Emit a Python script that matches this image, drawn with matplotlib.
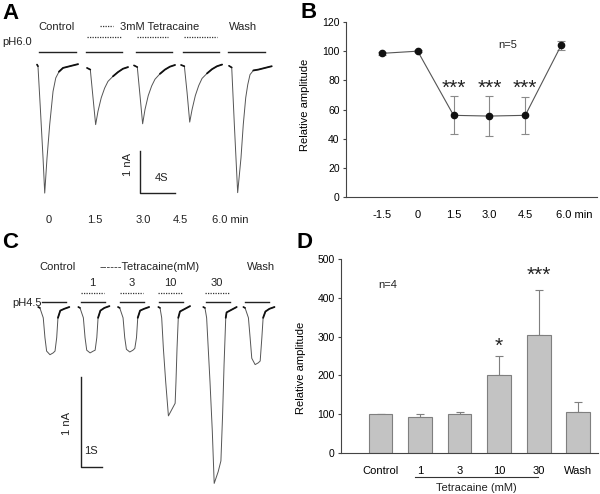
import matplotlib
matplotlib.use("Agg")
import matplotlib.pyplot as plt
import matplotlib.transforms as mtransforms

plt.rcParams['font.family'] = ['Liberation Sans', 'DejaVu Sans']
plt.rcParams['font.size'] = 8
plt.rcParams['text.color'] = '#222222'

# ---------------- panel A: pH6.0 currents (time in s, current in nA) ----------------
tA_ctrl = [0, 0.11, 0.38, 0.69, 0.88, 1.14, 1.45, 1.83, 2.14, 2.51, 2.97, 4.11, 4.69]
iA_ctrl = [0, -0.04, -1.04, -2.23, -3.06, -2.23, -1.43, -0.64, -0.32, -0.17, -0.08, -0.02, 0.01]
tA_drug = [0, 0.38, 0.69, 0.99, 1.26, 1.63, 2.02, 2.40, 2.97, 3.54, 4.11, 4.69]
iA_15 = [0, -0.04, -0.71, -1.35, -1.03, -0.71, -0.48, -0.32, -0.20, -0.10, -0.02, 0.02]
iA_30 = [0, -0.04, -0.72, -1.39, -1.05, -0.72, -0.49, -0.33, -0.20, -0.10, -0.03, 0.01]
iA_45 = [0, -0.03, -0.66, -1.36, -1.06, -0.73, -0.49, -0.32, -0.20, -0.10, -0.03, 0.01]
tA_wash = [0, 0.31, 0.61, 0.99, 1.37, 1.63, 1.91, 2.14, 2.40, 2.78, 3.35, 4.49, 4.88]
iA_wash = [0, -0.04, -1.40, -3.02, -2.19, -1.40, -0.76, -0.45, -0.21, -0.11, -0.09, -0.03, -0.01]
startA = [4.23, 9.94, 15.31, 20.69, 26.17]
baseA = [0.01, -0.07, -0.01, 0.0, -0.02]
solidA = [(4.46, 8.69), (9.83, 13.94), (15.54, 19.66), (20.91, 25.03), (26.06, 30.29)]
dottedA = [(9.94, 13.83), (15.66, 19.2), (21.03, 24.8)]
timesA = ['0', '1.5', '3.0', '4.5']
timesA_x = [5.6, 10.86, 16.34, 20.57]

# ---------------- panel B: relative amplitude over time ----------------
labels_B = ['-1.5', '0', '1.5', '3.0', '4.5', '6.0 min']
amp_B = [98.5, 100, 56, 55.5, 56, 104]
err_B = [1.0, 0.5, 13, 14, 12.5, 3]
sig_B = ['', '', '***', '***', '***', '']

# ---------------- panel C: pH4.5 currents ----------------
tC_sq = [0, 0.08, 0.24, 0.32, 0.40, 0.56, 0.71, 0.80, 0.88, 0.94, 1.05, 1.24, 1.48]
iC_ctrl = [0, -0.01, -0.12, -0.34, -0.49, -0.53, -0.51, -0.49, -0.34, -0.12, -0.04, -0.02, 0.0]
iC_1 = [0, -0.01, -0.12, -0.34, -0.48, -0.51, -0.49, -0.48, -0.34, -0.12, -0.04, -0.01, 0.01]
iC_3 = [0, -0.01, -0.12, -0.34, -0.47, -0.50, -0.48, -0.46, -0.34, -0.12, -0.04, -0.02, 0.0]
iC_wash = [0, -0.01, -0.12, -0.34, -0.57, -0.64, -0.62, -0.60, -0.34, -0.12, -0.05, -0.02, 0.0]
tC_10 = [0, 0.08, 0.16, 0.24, 0.35, 0.48, 0.64, 0.80, 0.84, 0.89, 0.95, 1.03, 1.27, 1.51]
iC_10 = [0, -0.01, -0.12, -0.46, -0.83, -1.21, -1.14, -1.07, -0.83, -0.46, -0.12, -0.05, -0.02, 0.01]
tC_30 = [0, 0.08, 0.16, 0.32, 0.43, 0.52, 0.71, 0.84, 0.92, 0.99, 1.07, 1.11, 1.35, 1.59]
iC_30 = [0, -0.01, -0.12, -0.83, -1.38, -1.96, -1.83, -1.71, -1.20, -0.64, -0.12, -0.06, -0.03, 0.0]
startC = [1.82, 3.73, 5.62, 7.54, 9.68, 11.59]
solidC = [(2.0, 3.14), (3.86, 5.0), (5.71, 6.86), (7.57, 8.71), (9.81, 10.95), (11.67, 12.81)]
dottedC = [(3.86, 4.95), (5.71, 6.81), (7.52, 8.67), (9.76, 10.9)]
concC = ['1', '3', '10', '30']
concC_x = [4.38, 6.29, 8.10, 10.33]

# ---------------- panel D: relative amplitude vs tetracaine ----------------
labels_D = ['Control', '1', '3', '10', '30', 'Wash']
amp_D = [100, 94, 101, 202, 305, 105]
err_D = [0, 6, 4, 48, 116, 26]
sig_D = ['', '', '', '*', '***', '']

fig = plt.figure(figsize=(6, 4.94), dpi=100)


def draw_trace(ax, t, i, x0, y0=0.0):
    xs = [x0 + v for v in t]
    ys = [y0 + v for v in i]
    ax.plot(xs, ys, color='#555555', lw=0.7, solid_capstyle='round')
    ax.plot(xs[-4:], ys[-4:], color='#111111', lw=1.3, solid_capstyle='round')
    ax.plot(xs[:2], ys[:2], color='#111111', lw=1.2, solid_capstyle='round')


# ---- A ----
ax_a = fig.add_axes([0, 1 - 230 / 494, 290 / 600, 210 / 494])
ax_a.set_xlim(0, 33.14)
ax_a.set_ylim(-3.929, 1.071)
ax_a.axis('off')
tracesA = [(tA_ctrl, iA_ctrl), (tA_drug, iA_15), (tA_drug, iA_30), (tA_drug, iA_45), (tA_wash, iA_wash)]
for (t, i), x0, y0 in zip(tracesA, startA, baseA):
    draw_trace(ax_a, t, i, x0, y0)
for a, b in solidA:
    ax_a.plot([a, b], [0.31, 0.31], color='#222222', lw=1.0)
for a, b in dottedA:
    ax_a.plot([a, b], [0.667, 0.667], color='#333333', lw=0.9, ls=(0, (1, 1)))
ax_a.plot([11.43, 12.91], [0.93, 0.93], color='#333333', lw=0.9, ls=(0, (1, 1)))
ax_a.text(6.51, 0.905, 'Control', ha='center', va='center')
ax_a.text(18.29, 0.905, '3mM Tetracaine', ha='center', va='center')
ax_a.text(27.77, 0.905, 'Wash', ha='center', va='center')
ax_a.text(0.23, 0.548, 'pH6.0', ha='left', va='center')
for lab, x in zip(timesA, timesA_x):
    ax_a.text(x, -3.69, lab, ha='center', va='center')
ax_a.text(24.2, -3.69, '6.0 min', ha='left', va='center')
# scale bar: 1 nA, 4 s
ax_a.plot([16.0, 16.0, 20.0], [-2.048, -3.048, -3.048], color='#222222', lw=1.0)
ax_a.text(14.63, -2.38, '1 nA', rotation=90, ha='center', va='center')
ax_a.text(18.5, -2.69, '4S', ha='center', va='center')

# ---- C ----
ax_c = fig.add_axes([0, 0, 290 / 600, 239 / 494])
ax_c.set_xlim(0, 13.81)
ax_c.set_ylim(-2.078, 0.578)
ax_c.axis('off')
tracesC = [(tC_sq, iC_ctrl), (tC_sq, iC_1), (tC_sq, iC_3), (tC_10, iC_10), (tC_30, iC_30), (tC_sq, iC_wash)]
for (t, i), x0 in zip(tracesC, startC):
    draw_trace(ax_c, t, i, x0)
for a, b in solidC:
    ax_c.plot([a, b], [0.056, 0.056], color='#222222', lw=1.0)
for a, b in dottedC:
    ax_c.plot([a, b], [0.156, 0.156], color='#333333', lw=0.9, ls=(0, (1, 1)))
for lab, x in zip(concC, concC_x):
    ax_c.text(x, 0.267, lab, ha='center', va='center')
ax_c.text(2.76, 0.444, 'Control', ha='center', va='center')
ax_c.text(7.14, 0.444, '------Tetracaine(mM)', ha='center', va='center')
ax_c.text(12.43, 0.444, 'Wash', ha='center', va='center')
ax_c.text(0.57, 0.044, 'pH4.5', ha='left', va='center')
# scale bar: 1 nA, 1 s
ax_c.plot([3.86, 3.86, 4.86], [-0.778, -1.778, -1.778], color='#222222', lw=1.0)
ax_c.text(3.19, -1.29, '1 nA', rotation=90, ha='center', va='center')
ax_c.text(4.33, -1.6, '1S', ha='center', va='center')

# ---- B ----
ax_b = fig.add_axes([346 / 600, 1 - 197 / 494, 251 / 600, 175 / 494])
xb = list(range(1, len(amp_B) + 1))
ax_b.errorbar(xb, amp_B, yerr=err_B, fmt='none', ecolor='#8a8a8a', elinewidth=0.8,
              capsize=3, capthick=0.8, zorder=2)
ax_b.plot(xb, amp_B, color='#555555', lw=0.8, marker='o', ms=4.5, mfc='#111111',
          mec='#111111', zorder=3)
for x, y, e, s in zip(xb, amp_B, err_B, sig_B):
    if s:
        ax_b.text(x, 71.0, s, ha='center', va='baseline', fontsize=15)
ax_b.text(4.5, 104, 'n=5', ha='center', va='center')
ax_b.set_xlim(0, 7)
ax_b.set_ylim(0, 120)
ax_b.set_yticks(range(0, 121, 20))
ax_b.set_xticks(xb)
ax_b.set_xticklabels(labels_B)
ax_b.set_ylabel('Relative amplitude', fontsize=8)
ax_b.yaxis.set_label_coords(-0.143, 0.526)
ax_b.tick_params(axis='x', length=0, pad=9, labelsize=8)
ax_b.tick_params(axis='y', length=2.5, width=0.8, pad=2, labelsize=7.5, color='#444444')
last = ax_b.get_xticklabels()[-1]
last.set_transform(last.get_transform() + mtransforms.ScaledTranslation(0.13, 0, fig.dpi_scale_trans))

# ---- D ----
ax_d = fig.add_axes([341 / 600, 1 - 453 / 494, 257 / 600, 194 / 494])
xd = list(range(1, len(amp_D) + 1))
ax_d.bar(xd, amp_D, width=0.6, color='#c3c3c3', edgecolor='#7f7f7f', lw=0.8, zorder=2)
ax_d.errorbar(xd, amp_D, yerr=[[0] * len(err_D), err_D], fmt='none', ecolor='#7f7f7f',
              elinewidth=0.8, capsize=3, capthick=0.8, zorder=1)
for x, y, e, s in zip(xd, amp_D, err_D, sig_D):
    if s:
        ax_d.text(x, y + e + (24 if s == '*' else 38), s, ha='center', va='center', fontsize=15)
ax_d.text(1.19, 433, 'n=4', ha='center', va='center')
ax_d.set_xlim(0, 6.5)
ax_d.set_ylim(0, 500)
ax_d.set_yticks(range(0, 501, 100))
ax_d.set_xticks(xd)
ax_d.set_xticklabels(labels_D)
ax_d.set_ylabel('Relative amplitude', fontsize=8)
ax_d.yaxis.set_label_coords(-0.136, 0.44)
ax_d.tick_params(axis='x', length=0, pad=9, labelsize=8)
ax_d.tick_params(axis='y', length=2.5, width=0.8, pad=2, labelsize=7.5, color='#444444')
ax_d.plot([1.87, 4.97], [-0.124, -0.124], color='#333333', lw=0.8,
          transform=ax_d.get_xaxis_transform(), clip_on=False)
ax_d.text(3.43, -0.18, 'Tetracaine (mM)', ha='center', va='center',
          transform=ax_d.get_xaxis_transform())

for ax in (ax_b, ax_d):
    for side in ('top', 'right'):
        ax.spines[side].set_visible(False)
    for side in ('left', 'bottom'):
        ax.spines[side].set_color('#444444')
        ax.spines[side].set_linewidth(0.8)

# panel letters
for lab, x, y in [('A', 2, 3), ('B', 300, 2), ('C', 2, 232), ('D', 297, 232)]:
    fig.text(x / 600, 1 - y / 494, lab, ha='left', va='top', fontsize=16, fontweight='bold',
             color='black')

fig.savefig('out.png', dpi=100)
